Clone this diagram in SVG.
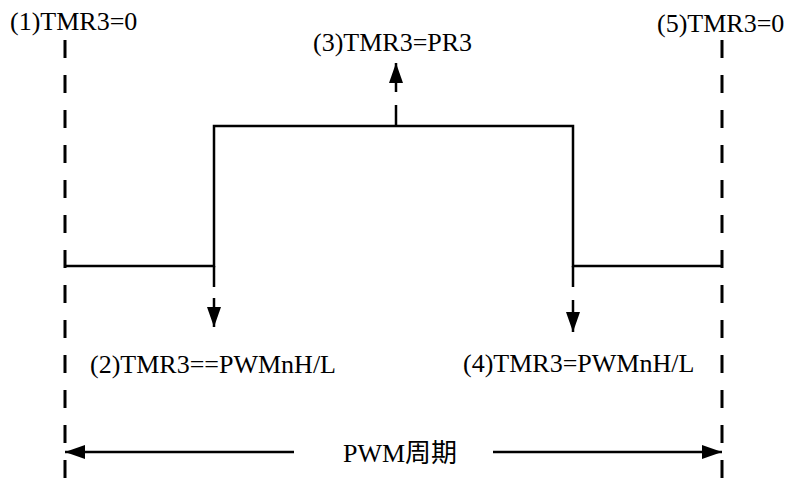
<svg xmlns="http://www.w3.org/2000/svg" width="790" height="487" viewBox="0 0 790 487">
<style>
.t{font-family:'Liberation Serif','Times New Roman',Times,'Noto Sans CJK SC',serif;font-size:26px;fill:#000}
.d{stroke:#000;stroke-width:3;stroke-dasharray:18 17;fill:none}
.s{stroke:#000;stroke-width:2.5;fill:none}
</style>
<defs>
<marker id="ahw" viewBox="0 0 10 10" refX="10" refY="5" markerWidth="20" markerHeight="14" markerUnits="userSpaceOnUse" orient="auto" preserveAspectRatio="none">
<path d="M0,0 L10,5 L0,10 Z" fill="#000"/>
</marker>
</defs>
<g id="connectors">
<line class="d" x1="65" y1="40" x2="65" y2="487"/>
<line class="d" x1="722" y1="40" x2="722" y2="487"/>
<polyline id="waveform" class="s" points="65,266 214,266 214,126 573,126 573,266 722,266"/>
<line class="s" x1="214" y1="266" x2="214" y2="287"/>
<line class="s" x1="573" y1="266" x2="573" y2="287"/>
<line class="s" x1="214" y1="298" x2="214" y2="327" marker-end="url(#ahw)"/>
<line class="s" x1="573" y1="300" x2="573" y2="332" marker-end="url(#ahw)"/>
<line class="s" x1="396" y1="126" x2="396" y2="105"/>
<line class="s" x1="396" y1="92" x2="396" y2="63" marker-end="url(#ahw)"/>
<line class="s" x1="294" y1="452" x2="65" y2="452" marker-end="url(#ahw)"/>
<line class="s" x1="493" y1="452" x2="722" y2="452" marker-end="url(#ahw)"/>
</g>
<g id="label1"><text class="t" x="10" y="30">(1)TMR3=0</text></g>
<g id="label2"><text class="t" x="90" y="373">(2)TMR3==PWMnH/L</text></g>
<g id="label3"><text class="t" x="313" y="51">(3)TMR3=PR3</text></g>
<g id="label4"><text class="t" x="463" y="372">(4)TMR3=PWMnH/L</text></g>
<g id="label5"><text class="t" x="657" y="32">(5)TMR3=0</text></g>
<g id="period"><text class="t" x="343" y="462">PWM周期</text></g>
</svg>
